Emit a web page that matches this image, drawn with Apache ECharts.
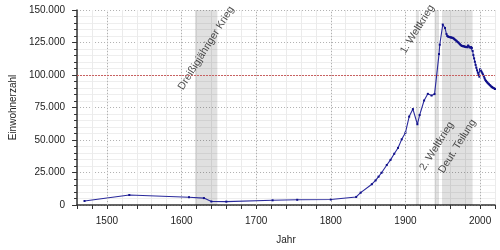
<!DOCTYPE html>
<html>
<head>
<meta charset="utf-8">
<script src="https://cdn.jsdelivr.net/npm/echarts@6/dist/echarts.min.js"></script>
<style>html,body{margin:0;padding:0;background:#fff}#c{width:500px;height:250px}</style>
</head>
<body>
<div id="c"></div>
<script>
// Years and population
const years = [1470,1530,1610,1630,1640,1660,1722,1755,1800,1834,1840,1855,1860,1864,1868,1875,1880,1885,1890,1895,1900,1905,1910,1916,1919,1925,1930,1935,1939,1945,1946,1950,1953,1955,
  1956,1957,1958,1959,1960,1961,1962,1963,1964,1965,1966,1967,1968,1969,1970,1971,1972,1973,1974,1975,1976,1977,1978,1979,1980,1981,1982,1983,1984,1985,1986,1987,1988,1989,
  1990,1991,1992,1993,1994,1995,1996,1997,1998,1999,2000,2001,2002,2003,2004,2005,2006,2007,2008,2009,2010,2011,2012,2013,2014,2015,2016,2017,2018,2019,2020];
const population = [3100,7700,6000,5300,2700,2600,3600,4000,4200,6200,9500,16000,18900,21800,24800,30800,34700,39400,43900,50500,55600,68000,73800,62100,69200,80400,85500,84200,85300,116100,123300,138800,136200,131500,
  130000,129600,129400,129200,129000,128900,128700,128600,128300,127900,127400,126900,126400,125900,125400,124900,124300,123700,123100,122600,122300,122100,122200,121900,121700,121500,121600,121300,122700,121900,121300,121100,121500,120800,
  118500,115300,112800,110200,107800,105600,103600,101800,100000,98700,104400,103500,102500,101300,100300,99000,97500,96200,95400,94700,94000,93400,92900,92300,91700,91100,90700,90300,90000,89700,89300];

// Historical periods (shaded)
const periodNames = ['Dreißigjähriger Krieg','1. Weltkrieg','2. Weltkrieg','Deut. Teilung'];
const periodStart = [1618,1914,1939,1949];
const periodEnd = [1648,1918,1945,1990];

// Axis ticks
const yTicks = [0,25000,50000,75000,100000,125000,150000];
const xLabelYears = [1500,1600,1700,1800,1900,2000];
const referenceLevel = 100000;

// label anchor heights (layout)
const labelHeights = [120700,135200,45300,45200];

const fmt = v => String(v).replace(/\B(?=(\d{3})+(?!\d))/g,'.');
const chart = echarts.init(document.getElementById('c'), null, {renderer:'canvas'});
const font = 'Liberation Sans, Arial, sans-serif';

chart.setOption({
  animation:false,
  grid:{left:75,right:5,top:10,bottom:44,containLabel:false},
  xAxis:{
    type:'value',min:1460,max:2020,interval:20,
    name:'Jahr',nameLocation:'middle',nameGap:30,
    nameTextStyle:{fontFamily:font,fontSize:10,color:'#222'},
    axisLine:{show:true,onZero:false,lineStyle:{color:'#333',width:1.5}},
    axisTick:{show:true,length:4,lineStyle:{color:'#333'}},
    axisLabel:{margin:11,fontFamily:font,fontSize:10,color:'#222',
      formatter:v=>xLabelYears.indexOf(v)>=0?String(v):''},
    splitLine:{show:true,lineStyle:{color:'#ebebeb',width:1}}
  },
  yAxis:{
    type:'value',min:0,max:150000,interval:25000,
    name:'Einwohnerzahl',nameLocation:'middle',nameGap:56,
    nameTextStyle:{fontFamily:font,fontSize:10,color:'#222'},
    axisLine:{show:true,lineStyle:{color:'#333',width:1.5}},
    axisTick:{show:true,length:5,lineStyle:{color:'#333'}},
    minorTick:{show:true,splitNumber:5,length:3,lineStyle:{color:'#333'}},
    axisLabel:{margin:12,fontFamily:font,fontSize:10,color:'#222',
      formatter:v=>yTicks.indexOf(v)>=0?fmt(v):''},
    splitLine:{show:true,lineStyle:{color:'#b0b0b0',type:[1,2],width:1}},
    minorSplitLine:{show:true,lineStyle:{color:'#eeeeee',width:1}}
  },
  series:[
    {
      type:'line',data:[],z:1,silent:true,
      markArea:{silent:true,itemStyle:{color:'rgba(0,0,0,0.12)'},
        data:periodStart.map((s,i)=>[{xAxis:s},{xAxis:periodEnd[i]}])},
      markLine:{silent:true,symbol:'none',label:{show:false},
        data:[
          ...xLabelYears.map(y=>({xAxis:y,lineStyle:{color:'#b0b0b0',type:[1,2],width:1}})),
          {yAxis:referenceLevel,lineStyle:{color:'#c86060',type:[2,1],width:1}}
        ]}
    },
    {
      type:'line',z:3,
      data:years.map((y,i)=>[y,population[i]]),
      lineStyle:{color:'#2a2a9c',width:1.1},
      symbol:'rect',symbolSize:2,showAllSymbol:true,
      itemStyle:{color:'#10108a'}
    },
    {
      type:'scatter',z:4,symbolSize:0,silent:true,
      data:periodNames.map((n,i)=>({value:[(periodStart[i]+periodEnd[i])/2,labelHeights[i]],name:n})),
      label:{show:true,position:'inside',rotate:58,align:'center',verticalAlign:'middle',
        formatter:p=>p.name,fontFamily:font,fontSize:10.5,color:'#222'}
    }
  ]
});
</script>
</body>
</html>
